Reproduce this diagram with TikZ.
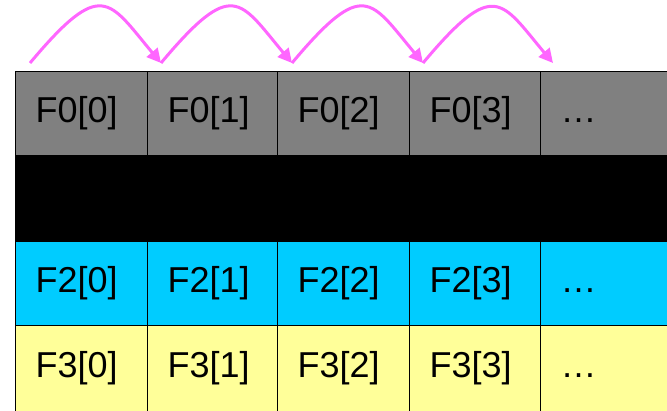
\documentclass[tikz,border=0pt]{standalone}
\usepackage{fontspec}
\setmainfont{Liberation Sans}
\usetikzlibrary{arrows.meta}
\definecolor{cellgray}{RGB}{128,128,128}
\definecolor{cellcyan}{RGB}{0,204,255}
\definecolor{cellyellow}{RGB}{255,255,153}
\definecolor{hop}{RGB}{255,102,255}
\begin{document}
\begin{tikzpicture}[x=1pt,y=1pt,
  cell/.style={draw=black,line width=1.2pt,anchor=north west,inner ysep=0pt,inner xsep=20pt,align=left,font=\fontsize{36}{40}\selectfont},
  hoparrow/.style={draw=hop,line width=3pt,-{Triangle[length=14pt,width=14pt]}}]
\useasboundingbox (0,0) rectangle (667,410);
\clip (0,0) rectangle (667,410);
\foreach \r/\yt/\h/\fc in {0/339/84/cellgray,1/255/86/black,2/169/84/cellcyan,3/85/86/cellyellow}{
  \foreach \c/\x/\tw in {0/15/92,1/147/90,2/277/92,3/409/91,4/540/110}{
    \node[cell,fill=\fc,minimum height=\h pt,text width=\tw pt] (n\r\c) at (\x,\yt)
      {\vphantom{F0[]}\ifnum\r=1 \else\ifnum\c=4 …\else F\r[\c]\fi\fi};
  }
}
\coordinate (a0) at (30,347);
\coordinate (a1) at (161,347);
\coordinate (a2) at (292,347);
\coordinate (a3) at (423,347);
\coordinate (a4) at (553,347);
\foreach \s/\t in {a0/a1,a1/a2,a2/a3,a3/a4}{
  \draw[hoparrow] (\s) to[out=50,in=130,out looseness=2.2,in looseness=1.6] (\t);
}
\end{tikzpicture}
\end{document}
